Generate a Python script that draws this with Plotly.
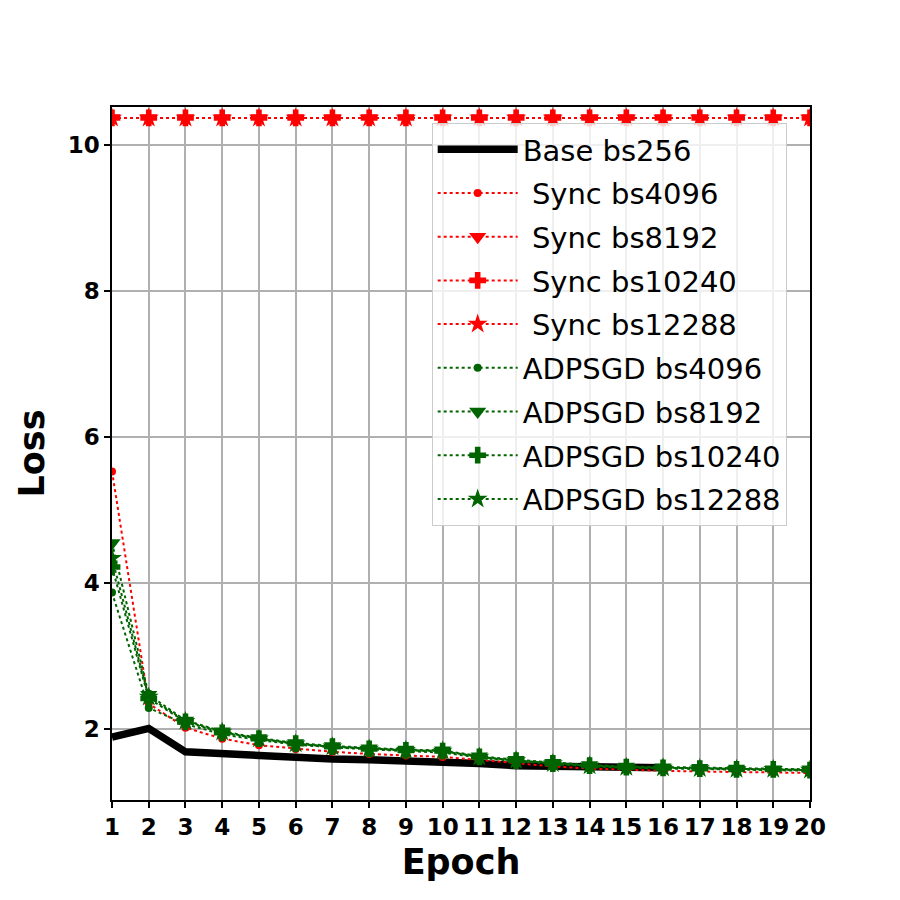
import plotly.graph_objects as go

epochs = list(range(1, 21))
base_epochs = list(range(1, 17))

base_bs256 = [1.89, 2.01, 1.69, 1.66, 1.63, 1.61, 1.59, 1.58, 1.57, 1.56, 1.53, 1.50, 1.49, 1.48, 1.47, 1.47]

sync_bs4096 = [5.53, 2.35, 2.02, 1.87, 1.78, 1.73, 1.69, 1.66, 1.64, 1.62, 1.58, 1.53, 1.49, 1.46, 1.44, 1.43, 1.42, 1.41, 1.41, 1.40]
sync_bs8192 = [10.37] * 20
sync_bs10240 = [10.37] * 20
sync_bs12288 = [10.37] * 20

adpsgd_bs4096 = [3.87, 2.29, 2.07, 1.93, 1.85, 1.79, 1.75, 1.72, 1.70, 1.68, 1.61, 1.56, 1.52, 1.49, 1.47, 1.46, 1.45, 1.44, 1.44, 1.43]
adpsgd_bs8192 = [4.55, 2.47, 2.12, 1.97, 1.88, 1.81, 1.77, 1.74, 1.72, 1.71, 1.63, 1.58, 1.54, 1.51, 1.49, 1.48, 1.47, 1.46, 1.45, 1.45]
adpsgd_bs10240 = [4.22, 2.42, 2.10, 1.95, 1.87, 1.80, 1.76, 1.73, 1.71, 1.70, 1.62, 1.57, 1.53, 1.50, 1.48, 1.47, 1.46, 1.45, 1.45, 1.44]
adpsgd_bs12288 = [4.34, 2.44, 2.11, 1.96, 1.87, 1.80, 1.76, 1.73, 1.71, 1.70, 1.62, 1.57, 1.53, 1.50, 1.48, 1.47, 1.46, 1.45, 1.45, 1.44]

x_ticks = list(range(1, 21))
y_ticks = [2, 4, 6, 8, 10]

RED = "#ff0000"
GREEN = "#006400"

fig = go.Figure()

fig.add_trace(go.Scatter(x=base_epochs, y=base_bs256, mode="lines", name="Base bs256",
                         line=dict(color="black", width=7.5), legendgroup="g0"))

sync = [(sync_bs4096, " Sync bs4096", "circle", 8),
        (sync_bs8192, " Sync bs8192", "triangle-down", 15),
        (sync_bs10240, " Sync bs10240", "cross", 14),
        (sync_bs12288, " Sync bs12288", "star", 15)]
for i, (vals, name, sym, sz) in enumerate(sync):
    fig.add_trace(go.Scatter(x=epochs, y=vals, mode="lines+markers", name=name,
                             line=dict(color=RED, width=2, dash="dot"),
                             marker=dict(symbol=sym, size=sz, color=RED, line=dict(width=0)),
                             legendgroup="s%d" % i))

adp = [(adpsgd_bs4096, "ADPSGD bs4096", "circle", 8),
       (adpsgd_bs8192, "ADPSGD bs8192", "triangle-down", 15),
       (adpsgd_bs10240, "ADPSGD bs10240", "cross", 14),
       (adpsgd_bs12288, "ADPSGD bs12288", "star", 15)]
for i, (vals, name, sym, sz) in enumerate(adp):
    fig.add_trace(go.Scatter(x=epochs, y=vals, mode="lines+markers", name=name,
                             line=dict(color=GREEN, width=2, dash="dot"),
                             marker=dict(symbol=sym, size=sz, color=GREEN, line=dict(width=0)),
                             legendgroup="a%d" % i))

axis_common = dict(showline=True, linecolor="black", linewidth=1.5, mirror=True,
                   ticks="outside", ticklen=6, tickwidth=1.5, tickcolor="black",
                   showgrid=True, gridcolor="#b0b0b0", gridwidth=1.5, zeroline=False,
                   tickfont=dict(family="DejaVu Sans", size=23, color="black", weight="bold"))

fig.update_xaxes(range=[1, 20], tickmode="array", tickvals=x_ticks,
                 ticktext=[str(t) for t in x_ticks],
                 title=dict(text="Epoch", font=dict(family="DejaVu Sans", size=35, color="black", weight="bold"),
                            standoff=10),
                 **axis_common)
fig.update_yaxes(range=[1.03, 10.52], tickmode="array", tickvals=y_ticks,
                 ticktext=[str(t) for t in y_ticks],
                 title=dict(text="Loss", font=dict(family="DejaVu Sans", size=35, color="black", weight="bold"),
                            standoff=12),
                 **axis_common)

fig.update_layout(
    width=900, height=900,
    margin=dict(l=112, r=90, t=107, b=100),
    plot_bgcolor="white", paper_bgcolor="white",
    font=dict(family="DejaVu Sans", color="black"),
    legend=dict(x=0.458, y=0.977, xanchor="left", yanchor="top",
                bgcolor="rgba(255,255,255,0.8)", bordercolor="#cccccc", borderwidth=1,
                font=dict(family="DejaVu Sans", size=29, color="black"),
                itemwidth=80, tracegroupgap=3),
)

fig.write_html("out.html")
